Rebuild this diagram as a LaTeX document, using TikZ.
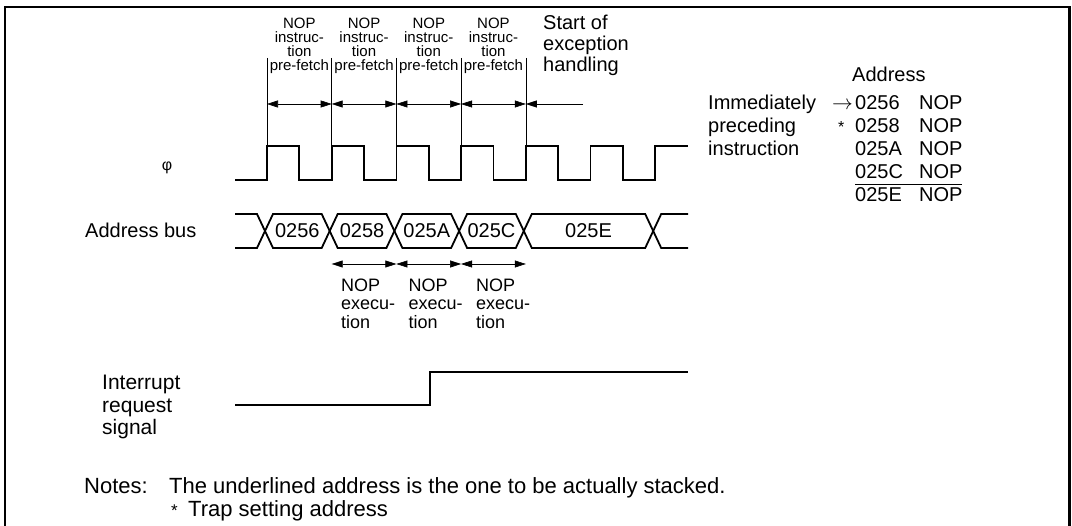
\documentclass[tikz,border=0pt]{standalone}
\usepackage{fontspec}
\setmainfont{Liberation Sans}
\usetikzlibrary{arrows.meta,positioning}

\begin{document}
\begin{tikzpicture}[
        x=1pt, y=-1pt,
        lbl/.style={inner sep=0pt, font=\fontsize{20}{23}\selectfont},
        note/.style={inner sep=0pt, font=\fontsize{22}{24}\selectfont},
        small/.style={inner sep=0pt, align=center, font=\fontsize{15}{14}\selectfont},
        exec/.style={inner sep=0pt, align=left, font=\fontsize{18}{18.5}\selectfont},
        wave/.style={line width=1.8pt, line join=miter},
        guide/.style={line width=0.6pt},
        dimarrow/.style={{Triangle[length=11pt,width=7pt]}-{Triangle[length=11pt,width=7pt]}, line width=0.6pt},
        backarrow/.style={-{Triangle[length=11pt,width=7pt]}, line width=0.6pt}
    ]
    \useasboundingbox (0,0) rectangle (1072,526);

    % Frame
    \draw[line width=2.8pt] (5,526) -- (5,7) -- (1069.5,7) -- (1069.5,526);

    % Clock edges
    \foreach \k in {0,...,6} {
        \coordinate (e\k) at ({267+64.7*\k},146);
    }

    % phi
    \draw[wave] (235,180) -- (267,180)
        \foreach \k in {0,...,5} { -- ({267+64.7*\k},146) -- ({299.3+64.7*\k},146) -- ({299.3+64.7*\k},180) -- ({331.7+64.7*\k},180) }
        -- (e6) -- (688,146);

    % Pre-fetch guides
    \foreach \k in {0,...,4} {
        \coordinate (t\k) at ({267+64.7*\k},58);
        \coordinate (a\k) at ({267+64.7*\k},104);
        \draw[guide] (t\k) -- (e\k);
    }
    \foreach \i/\j in {0/1,1/2,2/3,3/4} {
        \draw[dimarrow] (a\i) -- (a\j);
        \node[small, anchor=south] (pf\i) at ({299.35+64.7*\i},74) {NOP\\instruc-\\tion\\pre-fetch};
    }

    % Start of exception handling
    \node[lbl, align=left, anchor=south west, font=\fontsize{20}{21}\selectfont] (start) at (543,76) {Start of\\exception\\handling};
    \coordinate (a5) at (583,104);
    \draw[backarrow] (a5) -- (a4);

    % Address bus
    \draw[wave] (235,214) -- (257,214) -- (273,248) -- (321.7,248) -- (337.7,214) -- (386.4,214) -- (402.4,248) -- (451.1,248) -- (467.1,214) -- (515.8,214) -- (531.8,248) -- (645.2,248) -- (661.2,214) -- (688,214);
    \draw[wave] (235,248) -- (257,248) -- (273,214) -- (321.7,214) -- (337.7,248) -- (386.4,248) -- (402.4,214) -- (451.1,214) -- (467.1,248) -- (515.8,248) -- (531.8,214) -- (645.2,214) -- (661.2,248) -- (688,248);
    \foreach \lab/\xc [count=\n] in {0256/297.35, 0258/362.05, 025A/426.75, 025C/491.45, 025E/588.5} {
        \node[lbl] (bus\n) at (\xc,231) {\lab};
    }

    % NOP execution
    \foreach \k in {1,...,4} {
        \coordinate (b\k) at ({267+64.7*\k},264);
    }
    \foreach \i/\j in {1/2,2/3,3/4} {
        \draw[dimarrow] (b\i) -- (b\j);
        \node[exec, anchor=north west] (ex\i) at ({341+67.5*(\i-1)},278.5) {NOP\\execu-\\tion};
    }

    % Interrupt request signal
    \coordinate (irq0) at (235,405);
    \coordinate (irq1) at (430,405);
    \coordinate (irq2) at (430,372);
    \coordinate (irq3) at (688,372);
    \draw[wave] (irq0) -- (irq1) -- (irq2) -- (irq3);

    % Signal names
    \node[inner sep=0pt, font=\fontsize{16}{16}\selectfont] (phi) at (167,168) {φ};
    \node[lbl, anchor=base west] (abus) at (85,238) {Address bus};
    \node[lbl, align=left, anchor=north west, font=\fontsize{21}{22.5}\selectfont] (irq) at (102,375) {Interrupt\\request\\signal};

    % Address table
    \node[lbl, anchor=base west] (addr) at (852,82) {Address};
    \foreach \a/\yb [count=\r from 0] in {0256/110, 0258/133, 025A/156, 025C/179, 025E/202} {
        \node[lbl, anchor=base west] (ad\r) at (855,\yb) {\a};
        \node[lbl, anchor=base west] (op\r) at (919,\yb) {NOP};
    }
    \node[lbl, anchor=base west] (imm) at (708,110) {Immediately};
    \node[lbl, anchor=base west] (prec) at (708,133) {preceding};
    \node[lbl, anchor=base west] (instr) at (708,156) {instruction};
    \node[lbl, anchor=base west] (arr) at (832,110) {$\rightarrow$};
    \node[inner sep=0pt, anchor=base west, font=\fontsize{16}{16}\selectfont] (trapmark) at (838,133) {*};
    \coordinate (ul0) at (855,185);
    \coordinate (ul1) at (962,185);
    \draw[line width=1pt] (ul0) -- (ul1);

    % Notes
    \node[note, anchor=base west] (notes) at (84,494) {Notes:};
    \node[note, anchor=base west] (note1) at (169,494) {The underlined address is the one to be actually stacked.};
    \node[inner sep=0pt, anchor=base west, font=\fontsize{17}{17}\selectfont] (star) at (171,517) {*};
    \node[note, anchor=base west] (note2) at (188,517) {Trap setting address};

\end{tikzpicture}
\end{document}
